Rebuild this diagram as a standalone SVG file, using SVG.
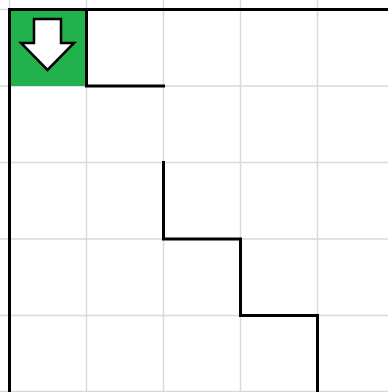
<svg xmlns="http://www.w3.org/2000/svg" width="388" height="392" viewBox="0 0 388 392">
<style>
.grid{stroke:#d9d9d9;stroke-width:1.5;fill:none}
.wall{stroke:#000;stroke-width:3;fill:none;stroke-linecap:square;stroke-linejoin:miter}
</style>
<rect width="388" height="392" fill="#fff"/>
<g id="grid" class="grid">
<path d="M9.5 0V392M86.5 0V392M163.5 0V392M240.5 0V392M317.5 0V392"/>
<path d="M0 9.5H388M0 86H388M0 162.5H388M0 239H388M0 315.5H388M0 391.5H388"/>
</g>
<g id="start">
<rect x="9.5" y="9.5" width="77" height="76.5" fill="#22b14c"/>
<polygon points="34,19 61,19 61,43 74,43 47.5,70 21,43 34,43" fill="#fff" stroke="#000" stroke-width="2.5" stroke-linejoin="miter"/>
</g>
<g id="walls" class="wall">
<path d="M9.5 392V9.5H388"/>
<path d="M86.5 9.5V86H163.5"/>
<path d="M163.5 162.5V239H240.5V315.5H317.5V392"/>
</g>
</svg>
